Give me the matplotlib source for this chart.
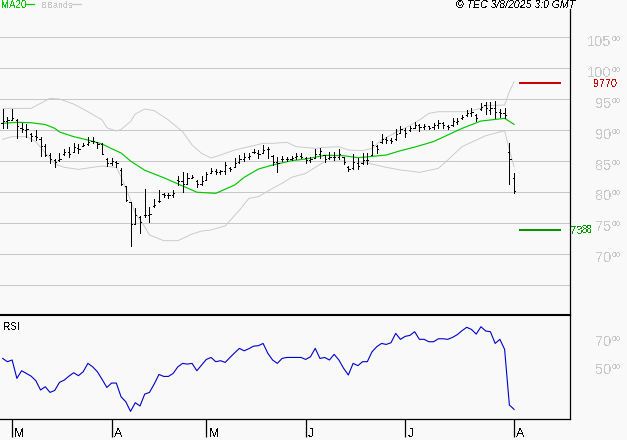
import matplotlib
matplotlib.use("Agg")
import matplotlib.pyplot as plt
import numpy as np
from matplotlib.transforms import blended_transform_factory

plt.rcParams["font.family"] = ["Liberation Sans", "DejaVu Sans"]
plt.rcParams["text.antialiased"] = False

BG = "#f9f9f9"
GRID = "#c8c8c8"

highs = [9340, 9205, 9340, 9175, 9110, 9100, 8950, 9000, 8885, 8770, 8625, 8525, 8625, 8690, 8720, 8785, 8770, 8795,
         8885, 8895, 8815, 8795, 8555, 8545, 8495, 8380, 8095, 7840, 7735, 7610, 8040, 7750, 7880, 8030, 7990, 7990,
         8030, 8255, 8315, 8310, 8275, 8190, 8255, 8315, 8381, 8370, 8355, 8480, 8400, 8555, 8597, 8625, 8625, 8690,
         8673, 8759, 8732, 8597, 8570, 8581, 8570, 8581, 8635, 8635, 8560, 8570, 8689, 8705, 8597, 8651, 8651, 8689,
         8570, 8419, 8613, 8543, 8624, 8624, 8824, 8759, 8932, 8894, 8867, 9012, 9072, 9029, 9071, 9136, 9098, 9093,
         9071, 9120, 9163, 9136, 9082, 9190, 9201, 9244, 9325, 9352, 9255, 9433, 9460, 9460, 9470, 9341, 9352, 8786,
         8300]
lows = [9040, 9040, 9165, 8865, 8975, 8895, 8830, 8840, 8585, 8585, 8470, 8410, 8505, 8595, 8570, 8640, 8635, 8745,
        8760, 8785, 8705, 8610, 8420, 8435, 8400, 8110, 7855, 7130, 7480, 7330, 7600, 7520, 7760, 7840, 7910, 7895,
        7910, 8110, 8005, 8130, 8220, 8085, 8110, 8190, 8300, 8290, 8285, 8290, 8340, 8400, 8473, 8500, 8532, 8625,
        8543, 8625, 8554, 8435, 8322, 8505, 8500, 8516, 8532, 8543, 8462, 8489, 8543, 8554, 8489, 8527, 8516, 8527,
        8451, 8344, 8365, 8371, 8451, 8451, 8597, 8624, 8786, 8786, 8786, 8840, 8948, 8894, 8990, 9039, 8990, 9017,
        9017, 9017, 9028, 9039, 9017, 9071, 9093, 9179, 9233, 9233, 9147, 9325, 9255, 9260, 9190, 9206, 9190, 8127,
        7987]
closes = [9150, 9170, 9190, 9060, 9010, 9010, 8900, 8890, 8740, 8600, 8530, 8490, 8530, 8640, 8620, 8720, 8700, 8760,
          8810, 8830, 8770, 8620, 8470, 8500, 8460, 8120, 7870, 7480, 7620, 7510, 7620, 7640, 7790, 7860, 7950, 7950,
          7990, 8180, 8120, 8230, 8240, 8130, 8180, 8290, 8340, 8330, 8340, 8430, 8370, 8470, 8530, 8570, 8580, 8640,
          8620, 8680, 8690, 8490, 8460, 8540, 8540, 8550, 8580, 8570, 8510, 8530, 8620, 8660, 8540, 8570, 8570, 8620,
          8480, 8370, 8480, 8420, 8520, 8520, 8760, 8690, 8860, 8840, 8820, 8930, 9010, 8960, 9040, 9090, 9050, 9060,
          9040, 9080, 9110, 9090, 9050, 9140, 9150, 9210, 9280, 9290, 9190, 9380, 9350, 9360, 9300, 9280, 9250, 8530,
          8010]
opens = [9120, 9150, 9170, 9160, 9040, 9000, 8930, 8900, 8860, 8740, 8600, 8510, 8510, 8620, 8640, 8650, 8710, 8750,
         8770, 8820, 8800, 8770, 8540, 8470, 8490, 8350, 8090, 7830, 7480, 7600, 7620, 7620, 7770, 7860, 7960, 7950,
         7950, 8190, 8180, 8130, 8230, 8170, 8130, 8200, 8300, 8340, 8330, 8340, 8390, 8410, 8480, 8530, 8570, 8640,
         8630, 8630, 8700, 8580, 8490, 8540, 8540, 8540, 8570, 8580, 8550, 8510, 8550, 8610, 8590, 8550, 8570, 8570,
         8560, 8410, 8390, 8470, 8460, 8520, 8600, 8750, 8800, 8860, 8840, 8860, 8950, 9000, 9000, 9040, 9080, 9050,
         9060, 9050, 9080, 9110, 9070, 9080, 9130, 9190, 9240, 9280, 9250, 9340, 9400, 9330, 9350, 9300, 9280, 8650,
         8230]

ma_idx = [0, 3, 6, 9, 11, 12, 15, 18, 21, 23, 25, 27, 30, 34, 37, 41, 45, 49, 51, 54, 57, 61, 64, 68, 72, 75, 78, 81,
          84, 87, 91, 97, 101, 106, 108]
ma_val = [9110, 9126, 9120, 9090, 9029, 8970, 8894, 8840, 8775, 8700, 8630, 8500, 8350, 8230, 8130, 7995, 7977, 8112,
          8236, 8370, 8435, 8505, 8532, 8592, 8586, 8554, 8575, 8597, 8667, 8725, 8815, 9028, 9147, 9190, 9093]

upper_idx = [0, 6, 8, 10, 12, 15, 18, 21, 22, 24, 25, 27, 28, 30, 32, 35, 38, 40, 42, 44, 46, 49, 52, 55, 57, 60, 62,
             66, 68, 71, 73, 76, 78, 80, 82, 84, 86, 88, 90, 92, 98, 101, 102, 106, 107, 108]
upper_val = [9352, 9352, 9433, 9514, 9503, 9422, 9298, 9164, 9039, 8985, 9012, 9137, 9261, 9342, 9315, 9164, 8975,
             8759, 8624, 8548, 8597, 8678, 8732, 8786, 8786, 8802, 8732, 8705, 8721, 8732, 8678, 8667, 8705, 8840,
             8921, 9002, 9072, 9163, 9271, 9298, 9298, 9352, 9395, 9406, 9622, 9783]

lower_idx = [0, 2, 5, 7, 11, 13, 16, 21, 24, 25, 27, 28, 30, 31, 34, 37, 40, 42, 44, 47, 50, 52, 54, 57, 59, 61, 64,
             66, 68, 71, 75, 78, 81, 84, 86, 88, 92, 94, 97, 102, 106, 107, 108]
lower_val = [8851, 8894, 8894, 8813, 8451, 8398, 8365, 8419, 8398, 8247, 7869, 7653, 7437, 7303, 7211, 7211, 7319,
             7367, 7384, 7450, 7705, 7896, 7923, 8058, 8139, 8236, 8300, 8398, 8489, 8500, 8489, 8451, 8398, 8354,
             8338, 8316, 8381, 8516, 8732, 8910, 8990, 8678, 8408]

rsi = [58.2, 55.9, 57.1, 44.1, 49.5, 47.6, 45.7, 42.5, 35.9, 38.2, 34.2, 35.6, 41.3, 42.9, 45.7, 48.1, 46.0, 48.8,
       54.7, 52.3, 48.8, 43.4, 37.7, 40.8, 40.8, 31.1, 27.6, 20.8, 26.9, 24.6, 33.0, 34.2, 40.1, 46.9, 45.5, 45.5,
       47.6, 52.3, 54.7, 54.2, 54.7, 49.5, 53.5, 57.5, 58.9, 55.9, 56.6, 55.4, 58.9, 62.2, 65.3, 63.6, 65.1, 66.9,
       67.2, 68.8, 61.8, 57.1, 54.7, 58.2, 58.9, 58.9, 58.9, 58.9, 57.5, 59.4, 65.3, 58.2, 58.9, 57.1, 61.1, 57.1,
       51.2, 46.5, 54.7, 53.1, 55.9, 55.9, 62.9, 66.5, 68.8, 68.1, 69.3, 75.9, 71.7, 73.8, 74.5, 77.1, 71.7, 71.7,
       70.0, 70.0, 72.1, 72.1, 71.7, 73.1, 75.0, 77.8, 80.2, 78.7, 75.4, 80.6, 77.6, 77.1, 68.8, 71.7, 64.6, 25.3,
       22.2]

price_ticks = [10500, 10000, 9500, 9000, 8500, 8000, 7500, 7000]
grid_levels = price_ticks + [6500]
rsi_ticks = [70, 50]
month_idx = [2, 23, 43, 64, 85, 108]
month_names = ["M", "A", "M", "J", "J", "A"]
target_high = 9770
target_low = 7388
target_span = [109, 118]

W, H = 627, 440
fig = plt.figure(figsize=(W / 100, H / 100), dpi=100, facecolor=BG)
ax_rsi = fig.add_axes([0, 1 - 419 / H, 569.5 / W, 104 / H], facecolor="none")
ax = fig.add_axes([0, 1 - 315 / H, 569.5 / W, 306 / H], facecolor="none")

days = np.arange(len(closes))
xlim = (-0.564, 119.7)

for a in (ax, ax_rsi):
    a.set_xlim(*xlim)
    a.spines["top"].set_visible(False)
    a.spines["left"].set_visible(False)
    a.spines["right"].set_linewidth(0.9)
    a.set_yticks([])
ax.spines["bottom"].set_linewidth(1.5)
ax_rsi.spines["bottom"].set_linewidth(0.9)
ax.set_xticks([])
ax.set_ylim(6008, 10960)
ax_rsi.set_ylim(15.4, 88.9)

ax.hlines(grid_levels, *xlim, color=GRID, lw=0.72, zorder=1, antialiased=False)
ax.plot(upper_idx, upper_val, color="#c8c8c8", lw=0.65, zorder=2)
ax.plot(lower_idx, lower_val, color="#c8c8c8", lw=0.65, zorder=2)
ax.plot(ma_idx, ma_val, color="#00c800", lw=0.85, zorder=3)

ax.vlines(days, lows, highs, color="black", lw=0.72, zorder=4, antialiased=False)
ax.hlines(opens, days - 0.25, days, color="black", lw=0.72, zorder=4, antialiased=False)
ax.hlines(closes, days, days + 0.25, color="black", lw=0.72, zorder=4, antialiased=False)

ax.hlines(target_high, *target_span, color="#cc0000", lw=1.44, zorder=4, antialiased=False)
ax.hlines(target_low, *target_span, color="#009900", lw=1.44, zorder=4, antialiased=False)

side = blended_transform_factory(fig.transFigure, ax.transData)
for p in price_ticks:
    ax.annotate(str(p)[:-2], (611.5 / W, p), xycoords=side, xytext=(0, -3.3), textcoords="offset points",
                ha="right", va="center", fontsize=10.5, color=GRID, annotation_clip=False)
    ax.annotate(str(p)[-2:], (611.5 / W, p), xycoords=side, xytext=(0, -1.5), textcoords="offset points",
                ha="left", va="center", fontsize=6, color=GRID, annotation_clip=False)
ax.annotate(str(target_high), (594 / W, target_high), xycoords=side, xytext=(0, -1), textcoords="offset points",
            ha="left", va="center", fontsize=7.8, color="#cc0000", annotation_clip=False)
ax.annotate(str(target_low)[:2], (570.5 / W, target_low), xycoords=side, xytext=(0, -1), textcoords="offset points",
            ha="left", va="center", fontsize=8, color="#009900", annotation_clip=False)
ax.annotate(str(target_low)[2:], (582 / W, target_low), xycoords=side, xytext=(0, -0.5), textcoords="offset points",
            ha="left", va="center", fontsize=7, color="#009900", annotation_clip=False)

ax_rsi.plot(days, rsi, color="#0000cc", lw=0.8)
ax_rsi.text(3 / W, 1 - 327 / H, "RSI", transform=fig.transFigure, fontsize=7.2, va="center", color="black")

side_rsi = blended_transform_factory(fig.transFigure, ax_rsi.transData)
for r in rsi_ticks:
    ax_rsi.annotate(str(r), (611.5 / W, r), xycoords=side_rsi, ha="right", va="center", fontsize=10.5, color=GRID,
                    annotation_clip=False)
    ax_rsi.annotate("00", (611.5 / W, r), xycoords=side_rsi, xytext=(0, 1.5), textcoords="offset points",
                    ha="left", va="center", fontsize=6, color=GRID, annotation_clip=False)

ax_rsi.set_xticks(month_idx)
ax_rsi.set_xticklabels([])
ax_rsi.tick_params(axis="x", length=13, width=0.9, color="black")
for i, name in zip(month_idx, month_names):
    ax_rsi.annotate(name, (i, 15.4), xytext=(1.6, -10.5), textcoords="offset points", ha="left", va="center",
                    fontsize=9, color="black", annotation_clip=False)

# header
fig.text(1 / W, 1 - 5 / H, "MA20", fontsize=7, color="#00c800", va="center")
fig.add_artist(plt.Line2D([25 / W, 34 / W], [1 - 4.5 / H] * 2, color="#00c800", lw=0.9))
fig.text(41 / W, 1 - 5 / H, "BBands", fontsize=6.5, color=GRID, va="center")
fig.add_artist(plt.Line2D([72 / W, 81 / W], [1 - 4.5 / H] * 2, color=GRID, lw=0.9))
fig.text(575 / W, 1 - 4.5 / H, "\u00a9 TEC 3/8/2025 3:0 GMT", fontsize=7.6, style="italic", color="black",
         ha="right", va="center")

fig.savefig("out.png", dpi=100, facecolor=BG)
